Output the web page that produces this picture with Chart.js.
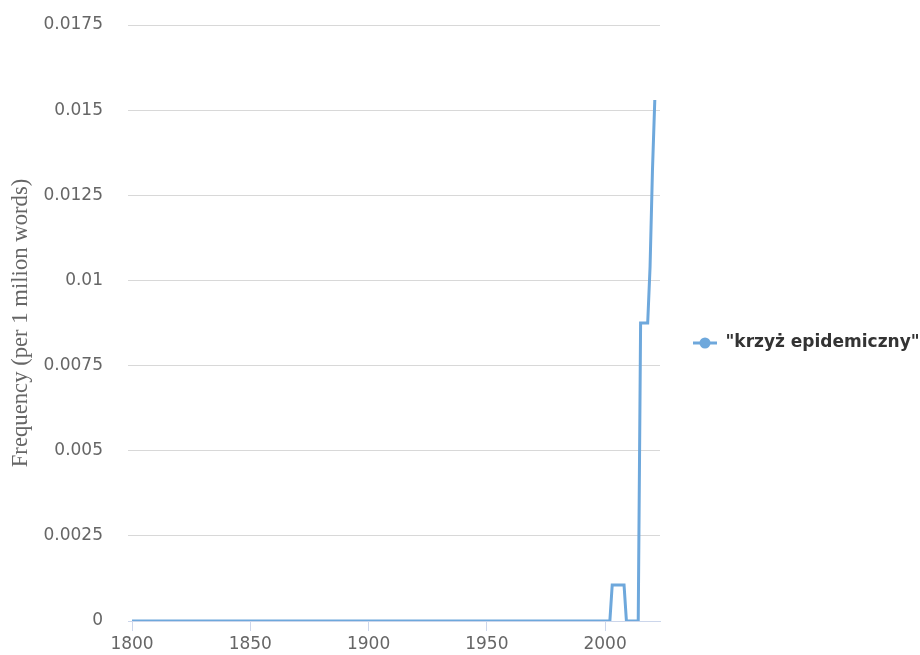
<!DOCTYPE html>
<html>
<head>
<meta charset="utf-8">
<script src="https://cdn.jsdelivr.net/npm/chart.js@4/dist/chart.umd.min.js"></script>
<style>
  html, body { margin: 0; padding: 0; background: #ffffff; }
  #wrap { width: 920px; height: 655px; }
</style>
</head>
<body>
<div id="wrap"><canvas id="c" width="920" height="655"></canvas></div>
<script>
// ---- data ----
const seriesLabel = '"krzyż epidemiczny"';
const years = [1800, 2002, 2003, 2008, 2009, 2014, 2015, 2018, 2019, 2020, 2021];
const freq  = [0, 0, 0.00106, 0.00106, 0, 0, 0.00875, 0.00875, 0.0104, 0.0132, 0.0153];
const xTicks = [1800, 1850, 1900, 1950, 2000];
const yTicks = [0, 0.0025, 0.005, 0.0075, 0.01, 0.0125, 0.015, 0.0175];
const yTitle = 'Frequency (per 1 milion words)';

const lineColor = '#6ea8dc';

// legend marker: short line with a dot
const marker = document.createElement('canvas');
marker.width = 26; marker.height = 14;
(function () {
  const g = marker.getContext('2d');
  g.strokeStyle = lineColor; g.lineWidth = 3;
  g.beginPath(); g.moveTo(1, 7); g.lineTo(25, 7); g.stroke();
  g.fillStyle = lineColor;
  g.beginPath(); g.arc(13, 7, 5.5, 0, Math.PI * 2); g.fill();
})();

const fmt = v => String(Number(Number(v).toFixed(4)));

new Chart(document.getElementById('c'), {
  type: 'line',
  data: {
    datasets: [{
      label: seriesLabel,
      data: years.map((y, i) => ({ x: y, y: freq[i] })),
      borderColor: lineColor,
      backgroundColor: lineColor,
      borderWidth: 3,
      pointRadius: 0,
      pointHoverRadius: 0,
      tension: 0,
      fill: false
    }]
  },
  options: {
    responsive: false,
    animation: false,
    devicePixelRatio: 1,
    layout: { padding: { top: 25, left: 0, right: 0, bottom: 0 } },
    plugins: {
      tooltip: { enabled: false },
      legend: {
        position: 'right',
        align: 'center',
        maxWidth: 260,
        title: { display: true, text: '', font: { size: 5, lineHeight: 1.2 }, padding: 0 },
        labels: {
          usePointStyle: true,
          pointStyle: marker,
          pointStyleWidth: 24,
          padding: 33,
          color: '#333333',
          font: { family: 'DejaVu Sans', size: 17, weight: 'bold' }
        }
      }
    },
    scales: {
      x: {
        type: 'linear',
        min: 1798.3,
        max: 2023.2,
        afterBuildTicks: s => { s.ticks = xTicks.map(v => ({ value: v })); },
        afterFit: s => { s.height = 34; },
        grid: { drawOnChartArea: false, color: '#ccd6eb', tickColor: '#ccd6eb', tickLength: 10, lineWidth: 1 },
        border: { color: '#ccd6eb', width: 1 },
        ticks: {
          color: '#666666',
          font: { family: 'DejaVu Sans', size: 17 },
          padding: 3,
          maxRotation: 0,
          autoSkip: false,
          callback: v => String(v)
        }
      },
      y: {
        min: 0,
        max: 0.0175,
        afterBuildTicks: s => { s.ticks = yTicks.map(v => ({ value: v })); },
        afterFit: s => { s.width = 128; },
        grid: { color: '#d8d8d8', lineWidth: 1, drawTicks: true, tickLength: 22, tickColor: 'rgba(0,0,0,0)' },
        border: { display: false },
        ticks: {
          color: '#666666',
          font: { family: 'DejaVu Sans', size: 17 },
          padding: 3,
          autoSkip: false,
          callback: v => fmt(v)
        },
        title: {
          display: true,
          text: yTitle,
          color: '#666666',
          font: { family: 'Liberation Serif', size: 22.7 },
          padding: { top: 7, bottom: 0 }
        }
      }
    }
  }
});
</script>
</body>
</html>
